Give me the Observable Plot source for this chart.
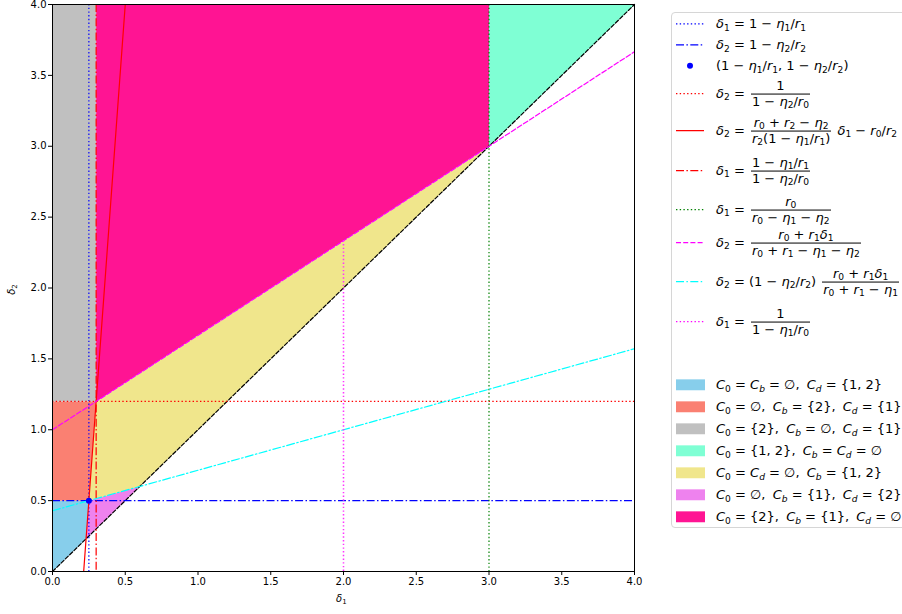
<!DOCTYPE html>
<html>
<head>
<meta charset="utf-8">
<script src="https://cdn.jsdelivr.net/npm/d3@7"></script>
<script src="https://cdn.jsdelivr.net/npm/@observablehq/plot@0.6"></script>
<style>
  body { margin:0; width:902px; height:614px; overflow:hidden; position:relative; background:#fff; font-family:"DejaVu Sans", sans-serif; color:#000; }
  #chart { position:absolute; left:0; top:0; }
  #legend { position:absolute; left:671px; top:12px; width:262px; height:516px; border:1px solid #d6d6d6; border-radius:4px; background:rgba(255,255,255,0.8); box-sizing:border-box; }
  .row { position:absolute; left:0; transform:translateY(-50%); display:flex; align-items:center; white-space:nowrap; font-size:13px; }
  .handle { width:44px; flex:none; display:flex; align-items:center; padding-left:4px; box-sizing:border-box; }
  .txt { line-height:1.1; }
  i { font-style:oblique; }
  sub { font-size:70%; vertical-align:-0.3em; line-height:0; }
  .frac { display:inline-flex; flex-direction:column; align-items:center; vertical-align:middle; margin:0 2px; line-height:1.15; }
  .frac .den { border-top:1px solid #000; padding:0 1px; }
  .sp { display:inline-block; width:3px; }
  .lab { position:absolute; font-size:10px; }
</style>
</head>
<body>
<div id="chart"></div>
<div id="legend"></div>
<div class="lab" style="left:336px; top:593px;"><i>δ</i><sub>1</sub></div>
<div class="lab" style="left:6px; top:284px; transform:rotate(-90deg);"><i>δ</i><sub>2</sub></div>
<script>
// ---- model parameters ----
const r = [6, 4, 2];        // r0, r1, r2
const eta = [3, 1];         // eta1, eta2
const axisDomain = [0, 4];
const tickValues = [0, 0.5, 1.0, 1.5, 2.0, 2.5, 3.0, 3.5, 4.0];

const [r0, r1, r2] = r;
const [eta1, eta2] = eta;

// derived quantities
const d1a = 1 - eta1 / r1;
const d2a = 1 - eta2 / r2;
const hLine = 1 / (1 - eta2 / r0);
const vLine = (1 - eta1 / r1) / (1 - eta2 / r0);
const gLine = r0 / (r0 - eta1 - eta2);
const mdot = 1 / (1 - eta1 / r0);
const aRed = (r0 + r2 - eta2) / (r2 * (1 - eta1 / r1));
const bRed = r0 / r2;
const red = x => aRed * x - bRed;
const mag = x => (r0 + r1 * x) / (r0 + r1 - eta1 - eta2);
const cy0 = (1 - eta2 / r2) * r0 / (r0 + r1 - eta1);
const cy1 = (1 - eta2 / r2) * r1 / (r0 + r1 - eta1);
const cyan = x => cy0 + cy1 * x;
const qPt = bRed / (aRed - 1);     // red ∩ diagonal
const sPt = cy0 / (1 - cy1);       // cyan ∩ diagonal
const yTop = axisDomain[1];

const P = [d1a, d2a];
const h = hLine, v = vLine, g = gLine, q = qPt, s = sPt;
const regions = [
  {name: "skyblue", fill: "#87ceeb", pts: [[0,0],[q,q],P,[0,d2a]]},
  {name: "salmon", fill: "#fa8072", pts: [[0,d2a],P,[v,h],[0,h]]},
  {name: "silver", fill: "#c0c0c0", pts: [[0,h],[v,h],[v,yTop],[0,yTop]]},
  {name: "aquamarine", fill: "#7fffd4", pts: [[g,g],[g,yTop],[yTop,yTop]]},
  {name: "khaki", fill: "#f0e68c", pts: [P,[v,h],[g,g],[s,s]]},
  {name: "violet", fill: "#ee82ee", pts: [[q,q],[s,s],P]},
  {name: "deeppink", fill: "#ff1493", pts: [[v,h],[v,yTop],[g,yTop],[g,g]]}
];

const lineData = (f) => axisDomain.map(x => ({x, y: f(x)}));

const DOT = "1.4,2.3", DASH = "5,2.2", DASHDOT = "8,2.4,1.5,2.4";

const chart = Plot.plot({
  width: 660, height: 614,
  marginLeft: 52, marginRight: 26, marginTop: 4, marginBottom: 43,
  style: {fontFamily: "DejaVu Sans", fontSize: "10px", color: "#000", background: "#fff"},
  x: {domain: axisDomain},
  y: {domain: axisDomain},
  marks: [
    ...regions.map(rg => Plot.line(rg.pts, {x: d => d[0], y: d => d[1], fill: rg.fill, stroke: "none", curve: "linear-closed"})),
    Plot.line(lineData(x => x), {x: "x", y: "y", stroke: "black", strokeWidth: 1.2, strokeDasharray: "4,2"}),
    Plot.ruleX([d1a], {stroke: "blue", strokeWidth: 1.2, strokeDasharray: DOT}),
    Plot.ruleY([d2a], {stroke: "blue", strokeWidth: 1.2, strokeDasharray: DASHDOT}),
    Plot.ruleY([h], {stroke: "red", strokeWidth: 1.2, strokeDasharray: DOT}),
    Plot.line(lineData(red), {x: "x", y: "y", stroke: "red", strokeWidth: 1.2, clip: true}),
    Plot.ruleX([v], {stroke: "red", strokeWidth: 1.2, strokeDasharray: DASHDOT}),
    Plot.ruleX([g], {stroke: "green", strokeWidth: 1.2, strokeDasharray: DOT}),
    Plot.line(lineData(mag), {x: "x", y: "y", stroke: "magenta", strokeWidth: 1.2, strokeDasharray: DASH, clip: true}),
    Plot.line(lineData(cyan), {x: "x", y: "y", stroke: "cyan", strokeWidth: 1.2, strokeDasharray: DASHDOT, clip: true}),
    Plot.ruleX([mdot], {y1: 0, y2: mag(mdot), stroke: "#ff33ff", strokeWidth: 1.5, strokeDasharray: DOT}),
    Plot.dot([P], {x: d => d[0], y: d => d[1], r: 3, fill: "blue", stroke: "none"}),
    Plot.frame({stroke: "black", strokeWidth: 1}),
    Plot.axisX({ticks: tickValues, tickFormat: d3.format(".1f"), tickSize: 4, tickPadding: 2, label: null}),
    Plot.axisY({ticks: tickValues, tickFormat: d3.format(".1f"), tickSize: 4, tickPadding: 2, label: null})
  ]
});
document.getElementById("chart").append(chart);

// ---- legend ----
const it = (c) => `<i>${c}</i>`;
const sb = (b, n) => `${b}<sub>${n}</sub>`;
const D = n => sb(it("δ"), n), E = n => sb(it("η"), n), R = n => sb(it("r"), n), C = n => sb(it("C"), n);
const frac = (n, d) => `<span class="frac"><span>${n}</span><span class="den">${d}</span></span>`;
const m = " − ", eq = " = ", pl = " + ", cm = `,<span class="sp"></span> `;

const lineEntries = [
  {y: 11, label: `${D(1)}${eq}1${m}${E(1)}/${R(1)}`, stroke: "blue", dash: DOT},
  {y: 32, label: `${D(2)}${eq}1${m}${E(2)}/${R(2)}`, stroke: "blue", dash: DASHDOT},
  {y: 53, label: `(1${m}${E(1)}/${R(1)}, 1${m}${E(2)}/${R(2)})`, marker: "blue"},
  {y: 81, label: `${D(2)}${eq}${frac("1", `1${m}${E(2)}/${R(0)}`)}`, stroke: "red", dash: DOT},
  {y: 118, label: `${D(2)}${eq}${frac(`${R(0)}${pl}${R(2)}${m}${E(2)}`, `${R(2)}(1${m}${E(1)}/${R(1)})`)} ${D(1)}${m}${R(0)}/${R(2)}`, stroke: "red", dash: null},
  {y: 158, label: `${D(1)}${eq}${frac(`1${m}${E(1)}/${R(1)}`, `1${m}${E(2)}/${R(0)}`)}`, stroke: "red", dash: DASHDOT},
  {y: 197, label: `${D(1)}${eq}${frac(R(0), `${R(0)}${m}${E(1)}${m}${E(2)}`)}`, stroke: "green", dash: DOT},
  {y: 230, label: `${D(2)}${eq}${frac(`${R(0)}${pl}${R(1)}${D(1)}`, `${R(0)}${pl}${R(1)}${m}${E(1)}${m}${E(2)}`)}`, stroke: "magenta", dash: DASH},
  {y: 269, label: `${D(2)}${eq}(1${m}${E(2)}/${R(2)}) ${frac(`${R(0)}${pl}${R(1)}${D(1)}`, `${R(0)}${pl}${R(1)}${m}${E(1)}`)}`, stroke: "cyan", dash: DASHDOT},
  {y: 309, label: `${D(1)}${eq}${frac("1", `1${m}${E(1)}/${R(0)}`)}`, stroke: "magenta", dash: DOT}
];
const E0 = "∅";
const patchLabels = [
  `${C(0)}${eq}${C(it("b"))}${eq}${E0}${cm}${C(it("d"))}${eq}{1, 2}`,
  `${C(0)}${eq}${E0}${cm}${C(it("b"))}${eq}{2}${cm}${C(it("d"))}${eq}{1}`,
  `${C(0)}${eq}{2}${cm}${C(it("b"))}${eq}${E0}${cm}${C(it("d"))}${eq}{1}`,
  `${C(0)}${eq}{1, 2}${cm}${C(it("b"))}${eq}${C(it("d"))}${eq}${E0}`,
  `${C(0)}${eq}${C(it("d"))}${eq}${E0}${cm}${C(it("b"))}${eq}{1, 2}`,
  `${C(0)}${eq}${E0}${cm}${C(it("b"))}${eq}{1}${cm}${C(it("d"))}${eq}{2}`,
  `${C(0)}${eq}{2}${cm}${C(it("b"))}${eq}{1}${cm}${C(it("d"))}${eq}${E0}`
];
const patchY = [372, 394, 416, 438, 460, 482, 504];

const leg = document.getElementById("legend");
function addRow(y, handleSvg, label) {
  const row = document.createElement("div");
  row.className = "row";
  row.style.top = y + "px";
  row.innerHTML = `<span class="handle">${handleSvg}</span><span class="txt">${label}</span>`;
  leg.append(row);
}
lineEntries.forEach(e => {
  let svg;
  if (e.marker) svg = `<svg width="30" height="12"><circle cx="14" cy="6" r="3" fill="${e.marker}"/></svg>`;
  else svg = `<svg width="30" height="12"><line x1="0" x2="28" y1="6" y2="6" stroke="${e.stroke}" stroke-width="1.2" ${e.dash ? `stroke-dasharray="${e.dash}"` : ""}/></svg>`;
  addRow(e.y, svg, e.label);
});
regions.forEach((rg, i) => {
  addRow(patchY[i], `<svg width="30" height="12"><rect x="0" y="0.5" width="29" height="11" fill="${rg.fill}"/></svg>`, patchLabels[i]);
});
</script>
</body>
</html>
